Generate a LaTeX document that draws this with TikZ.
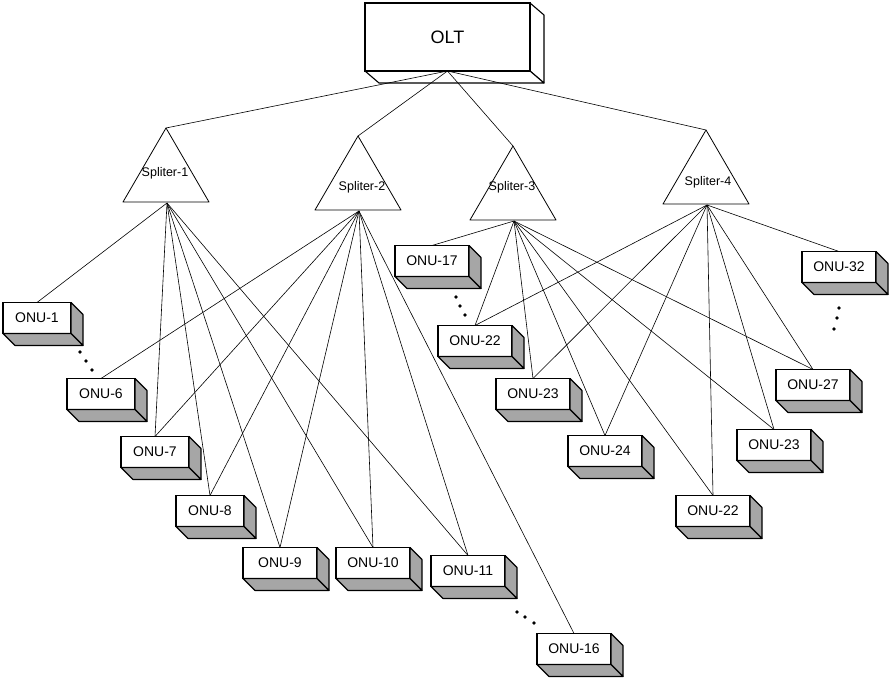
\documentclass[tikz,border=0pt]{standalone}
\usepackage{fontspec}
\setmainfont{Liberation Sans}
\usetikzlibrary{calc}
\pgfdeclarelayer{wires}
\pgfsetlayers{wires,main}
\begin{document}
\begin{tikzpicture}[x=1pt,y=-1pt,
  wire/.style={line width=0.6pt},
  onu/.style={draw, line width=1.1pt, fill=white, minimum width=74pt,
    minimum height=31pt, inner sep=0pt, outer sep=0pt,
    font=\fontsize{14}{14}\selectfont},
  narrow/.style={minimum width=68pt},
  face/.style={draw, line width=1.1pt, fill=black!35, line join=round},
  oltface/.style={draw, line width=1.1pt, fill=white, line join=round},
  tri/.style={draw, line width=0.8pt, fill=white, line join=round},
  spltext/.style={inner sep=0pt, font=\fontsize{12.5}{12.5}\selectfont},
  gap/.style={fill=black}]
\useasboundingbox (0,0) rectangle (893,682);

% central office box
\node[draw, line width=1.1pt, fill=white, minimum width=165pt, minimum height=68pt,
  inner sep=0pt, outer sep=0pt, font=\fontsize{18}{18}\selectfont] (olt) at (447.5,37) {OLT};
\begin{pgfonlayer}{wires}
  \filldraw[oltface] (olt.north east) -- ($(olt.north east)+(14,12)$)
    -- ($(olt.south east)+(14,12)$) -- (olt.south east) -- cycle;
  \filldraw[oltface] (olt.south west) -- (olt.south east)
    -- ($(olt.south east)+(14,12)$) -- ($(olt.south west)+(14,12)$) -- cycle;
\end{pgfonlayer}

% splitters: triangle, apex point (a) and output point (b)
\foreach \i/\x/\y/\tx/\ty in {1/166/202/165/173, 2/358/210/362/187,
                              3/513/220/512/187, 4/706/204/708/182}{
  \filldraw[tri] (\x-43,\y) -- (\x,\y-74) -- (\x+43,\y) -- cycle;
  \coordinate (s\i a) at (\x,\y-74);
  \coordinate (s\i b) at (\x+1,\y+1);
  \node[spltext] (sp\i) at (\tx,\ty) {Spliter-\i};
}

% subscriber units
\node[onu, narrow] (o1)   at (37,318)  {ONU-1};
\node[onu, narrow] (o6)   at (101,394) {ONU-6};
\node[onu, narrow] (o7)   at (155,452) {ONU-7};
\node[onu, narrow] (o8)   at (210,511) {ONU-8};
\node[onu] (o9)   at (280,563) {ONU-9};
\node[onu] (o10)  at (373,563) {ONU-10};
\node[onu] (o11)  at (468,571) {ONU-11};
\node[onu] (o16)  at (574,649) {ONU-16};
\node[onu] (o17)  at (432,261) {ONU-17};
\node[onu] (o22a) at (475,341) {ONU-22};
\node[onu] (o23a) at (533,394) {ONU-23};
\node[onu] (o24)  at (605,451) {ONU-24};
\node[onu] (o22b) at (713,511) {ONU-22};
\node[onu] (o23b) at (774,445) {ONU-23};
\node[onu] (o27)  at (813,385) {ONU-27};
\node[onu] (o32)  at (839,267) {ONU-32};

% shaded side and bottom faces of each unit
\foreach \n in {o1,o6,o7,o8,o9,o10,o11,o16,o17,o22a,o23a,o24,o22b,o23b,o27,o32}{
  \filldraw[face] (\n.north east) -- ($(\n.north east)+(12,12)$)
    -- ($(\n.south east)+(12,12)$) -- (\n.south east) -- cycle;
  \filldraw[face] (\n.south west) -- (\n.south east)
    -- ($(\n.south east)+(12,12)$) -- ($(\n.south west)+(12,12)$) -- cycle;
}

% fibre links
\begin{pgfonlayer}{wires}
  \foreach \i in {1,2,3,4} \draw[wire] (olt.south) -- (s\i a);
  \foreach \n in {o1,o7,o8,o9,o10,o11} \draw[wire] (s1b) -- (\n.north);
  \foreach \n in {o6,o7,o8,o9,o10,o11,o16} \draw[wire] (s2b) -- (\n.north);
  \foreach \n in {o17,o22a,o23a,o24,o22b,o23b,o27} \draw[wire] (s3b) -- (\n.north);
  \foreach \n in {o22a,o23a,o24,o22b,o23b,o27,o32} \draw[wire] (s4b) -- (\n.north);
\end{pgfonlayer}

% ellipsis dots between unit groups
\foreach \p in {(80,352),(86,361),(92,370),
                (456,297),(460,306),(465,315),
                (517,612),(525,617),(534,623),
                (839,308),(837,318),(834,329)}
  \fill[gap] \p circle (1.8);
\end{tikzpicture}
\end{document}
